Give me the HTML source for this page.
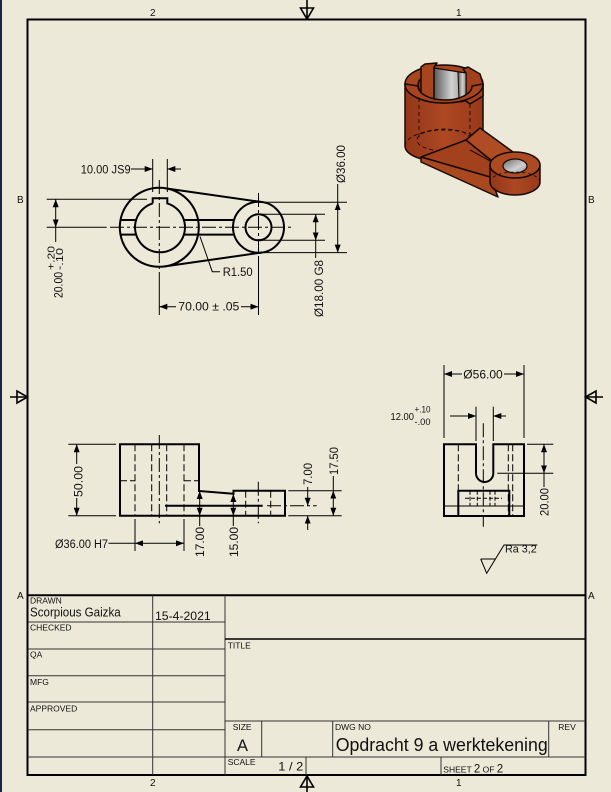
<!DOCTYPE html>
<html><head><meta charset="utf-8"><style>
html,body{margin:0;padding:0;background:#ECE9D8;}
svg{display:block;}
text{font-family:"Liberation Sans",sans-serif;fill:#111;}
</style></head><body>
<svg width="611" height="792" viewBox="0 0 611 792" xmlns="http://www.w3.org/2000/svg">
<defs>
<marker id="ar" viewBox="0 0 8 6" refX="8" refY="3" markerWidth="8" markerHeight="6" markerUnits="userSpaceOnUse" orient="auto"><path d="M0,0 L8,3 L0,6 z" fill="#000"/></marker>
<linearGradient id="gr" x1="0" y1="0" x2="1" y2="0"><stop offset="0" stop-color="#5a5a5a"/><stop offset="0.55" stop-color="#d2d2d2"/><stop offset="1" stop-color="#8a8a8a"/></linearGradient>
<linearGradient id="gr2" x1="0" y1="0" x2="1" y2="1"><stop offset="0" stop-color="#6a6a6a"/><stop offset="0.6" stop-color="#cfcfcf"/><stop offset="1" stop-color="#9a9a9a"/></linearGradient>
<linearGradient id="cu" x1="0" y1="0" x2="1" y2="0"><stop offset="0" stop-color="#93361a"/><stop offset="0.5" stop-color="#ad4822"/><stop offset="1" stop-color="#98391a"/></linearGradient>
</defs>
<rect x="0" y="0" width="611" height="792" fill="#ECE9D8"/>
<rect x="0" y="0" width="2" height="792" fill="#1e2050"/>

<rect x="27.5" y="19.5" width="558" height="755.5" fill="none" stroke="#000" stroke-width="2"/>
<g font-size="10">
<text x="150" y="16">2</text><text x="456" y="16">1</text>
<text x="150" y="786">2</text><text x="456" y="786">1</text>
<text x="17" y="203">B</text><text x="17" y="599">A</text>
<text x="588" y="203">B</text><text x="588" y="599">A</text>
</g>
<g stroke="#000" stroke-width="1.6" fill="none">
<line x1="307" y1="0" x2="307" y2="19"/><path d="M300.5,8 L313.5,8 L307,19 Z"/>
<line x1="307" y1="776" x2="307" y2="792"/><path d="M300.5,787 L313.5,787 L307,776 Z"/>
<line x1="10" y1="397" x2="27" y2="397"/><path d="M17,391 L17,403 L27.5,397 Z"/>
<line x1="586" y1="397" x2="603" y2="397"/><path d="M596,391 L596,403 L585.5,397 Z"/>
</g>

<!-- ================= TOP VIEW ================= -->
<g stroke="#000" fill="none">
<g stroke-width="2">
<circle cx="159.3" cy="227.3" r="39.5"/>
<path d="M152.7,203.4 L152.7,198.3 L167.3,198.3 L167.3,203.4 A25,25 0 1 1 152.7,203.4"/>
<circle cx="258.5" cy="227.3" r="25.5"/>
<circle cx="258.5" cy="227.3" r="13"/>
<line x1="164.9" y1="188.2" x2="262.1" y2="202.1"/>
<line x1="164.9" y1="266.4" x2="262.1" y2="252.5"/>
<line x1="120.5" y1="220" x2="135.4" y2="220"/>
<line x1="120.5" y1="234.6" x2="135.4" y2="234.6"/>
<line x1="183.2" y1="220" x2="234.1" y2="220"/>
<line x1="183.2" y1="234.6" x2="234.1" y2="234.6"/>
</g>
<g stroke-width="1">
<line x1="110" y1="227.3" x2="292" y2="227.3" stroke-dasharray="14,3,3,3"/>
<line x1="159.3" y1="180" x2="159.3" y2="272" stroke-dasharray="14,3,3,3"/>
<line x1="159.3" y1="272" x2="159.3" y2="315"/>
<line x1="258.5" y1="193" x2="258.5" y2="256" stroke-dasharray="14,3,3,3"/>
<line x1="258.5" y1="256" x2="258.5" y2="315"/>
<line x1="152.7" y1="159" x2="152.7" y2="192"/>
<line x1="167.3" y1="159" x2="167.3" y2="192"/>
<line x1="131" y1="169" x2="152.7" y2="169" marker-end="url(#ar)"/>
<line x1="181" y1="169" x2="167.3" y2="169" marker-end="url(#ar)"/>
<line x1="46.7" y1="199.3" x2="147" y2="199.3"/>
<line x1="46.7" y1="227.3" x2="106.7" y2="227.3"/>
<line x1="55.7" y1="213" x2="55.7" y2="199.3" marker-end="url(#ar)"/>
<line x1="55.7" y1="213" x2="55.7" y2="227.3" marker-end="url(#ar)"/>
<line x1="55.7" y1="227.3" x2="55.7" y2="242"/>
<polyline points="200,236.5 212.3,271.7 220,271.7"/>
<line x1="176" y1="306.7" x2="159.3" y2="306.7" marker-end="url(#ar)"/>
<line x1="241" y1="306.7" x2="258.5" y2="306.7" marker-end="url(#ar)"/>
<line x1="264" y1="202.2" x2="347" y2="202.2"/>
<line x1="264" y1="252.6" x2="347" y2="252.6"/>
<line x1="337.7" y1="227" x2="337.7" y2="202.2" marker-end="url(#ar)"/>
<line x1="337.7" y1="227" x2="337.7" y2="252.6" marker-end="url(#ar)"/>
<line x1="337.7" y1="202.2" x2="337.7" y2="184"/>
<line x1="262" y1="214.3" x2="325" y2="214.3"/>
<line x1="262" y1="240.3" x2="325" y2="240.3"/>
<line x1="315.7" y1="227" x2="315.7" y2="214.3" marker-end="url(#ar)"/>
<line x1="315.7" y1="227" x2="315.7" y2="240.3" marker-end="url(#ar)"/>
<line x1="315.7" y1="240.3" x2="315.7" y2="258"/>
</g>
</g>
<g font-size="11.5">
<text x="80.7" y="173.3" textLength="50" lengthAdjust="spacingAndGlyphs">10.00 JS9</text>
<text x="178.3" y="310.7" textLength="61" lengthAdjust="spacingAndGlyphs">70.00 ± .05</text>
<text x="222.7" y="276" textLength="30" lengthAdjust="spacingAndGlyphs">R1.50</text>
<text transform="translate(62.7,298) rotate(-90)" textLength="26" lengthAdjust="spacingAndGlyphs">20.00</text>
<text transform="translate(54.5,270) rotate(-90)" font-size="10.5" textLength="24" lengthAdjust="spacingAndGlyphs">+.20</text>
<text transform="translate(63,270) rotate(-90)" font-size="10.5" textLength="22" lengthAdjust="spacingAndGlyphs">-.10</text>
<text transform="translate(345,183) rotate(-90)" textLength="38" lengthAdjust="spacingAndGlyphs">Ø36.00</text>
<text transform="translate(323,317) rotate(-90)" textLength="57" lengthAdjust="spacingAndGlyphs">Ø18.00 G8</text>
</g>

<!-- ================= 3D VIEW ================= -->
<g stroke="#160a04" stroke-width="1.5" stroke-linejoin="round">
<path d="M405,84 L405,146 A39,16 0 0 0 483,146 L483,84 Z" fill="url(#cu)"/>
<ellipse cx="444" cy="84" rx="39" ry="19" fill="#a9461f"/>
<ellipse cx="445" cy="85" rx="27" ry="14" fill="#8e3414"/>
<path d="M434,68 L466,73 L466,101 Q450,104 434,100 Z" fill="url(#gr)" stroke-width="1.2"/>
<path d="M421,67 L425,64 L437,63 L434,67 L434,101 L421,97 Z" fill="#a8451f"/>
<path d="M463,69 L468,67 L480,74 L483,84 L483,96 L470,104 L466,101 L466,73 Z" fill="#a3411c"/>
<path d="M458,72 L466,73 L466,100 L459,101 Z" fill="url(#gr)" stroke-width="1"/>
<path d="M405,84 A39,19 0 0 0 483,84 L472,86 A27,14 0 0 1 418,86 Z" fill="#a8451f"/>
<g fill="none" stroke-width="0.9" stroke-dasharray="4,3">
<path d="M405,146 A39,16 0 0 1 483,146"/>
<ellipse cx="444" cy="140" rx="27" ry="11"/>
<line x1="419" y1="98" x2="419" y2="140"/>
<line x1="470" y1="104" x2="470" y2="140"/>
</g>
<!-- arm side face joining cylinder -->
<path d="M421,157 L466,140 L492,161 L490,177 Z" fill="#a3411c"/>
<path d="M466,140 L480,128 L513,152 L492,161 Z" fill="#b04c24"/>
<line x1="470" y1="150" x2="492" y2="162" stroke-width="1"/>
<!-- base plate wedge -->
<path d="M421,157 L490,177 L498,197 L421,162 Z" fill="#a9481f"/>
<!-- boss -->
<path d="M490,165 L490,182 A25,13 0 0 0 540,182 L540,165 Z" fill="url(#cu)"/>
<ellipse cx="515" cy="165" rx="25" ry="13" fill="#ad4a22"/>
<ellipse cx="515" cy="166" rx="12" ry="7" fill="url(#gr2)" stroke-width="1.2"/>
<path d="M490,182 A25,10 0 0 1 540,182" fill="none" stroke-width="0.8" stroke-dasharray="3,3"/>
</g>

<!-- ================= FRONT VIEW ================= -->
<g stroke="#000" fill="none">
<path d="M120,444.3 L199,444.3 L199,491 L233.5,493.8 L233.5,490.7 L285,490.7 L285,515.7 L120,515.7 Z" stroke-width="2"/>
<line x1="165" y1="505.7" x2="262.7" y2="505.7" stroke-width="2"/>
<g stroke-width="1" stroke-dasharray="7,3">
<line x1="135" y1="444.3" x2="135" y2="515.7"/>
<line x1="151.7" y1="444.3" x2="151.7" y2="515.7"/>
<line x1="166.7" y1="444.3" x2="166.7" y2="515.7"/>
<line x1="184" y1="444.3" x2="184" y2="515.7"/>
<line x1="120" y1="480.7" x2="135" y2="480.7"/>
<line x1="184" y1="480.7" x2="199" y2="480.7"/>
<line x1="245.7" y1="490.7" x2="245.7" y2="515.7"/>
<line x1="270.7" y1="490.7" x2="270.7" y2="515.7"/>
</g>
<g stroke-width="1">
<line x1="159.3" y1="435" x2="159.3" y2="523.3" stroke-dasharray="14,3,3,3"/>
<line x1="258.3" y1="481.7" x2="258.3" y2="523.3" stroke-dasharray="14,3,3,3"/>
<line x1="267" y1="505.7" x2="316.7" y2="505.7" stroke-dasharray="14,3,3,3"/>
<line x1="68.3" y1="444.3" x2="116" y2="444.3"/>
<line x1="68.3" y1="515.7" x2="116" y2="515.7"/>
<line x1="76.7" y1="464" x2="76.7" y2="444.3" marker-end="url(#ar)"/>
<line x1="76.7" y1="498" x2="76.7" y2="515.7" marker-end="url(#ar)"/>
<line x1="135" y1="519" x2="135" y2="551"/>
<line x1="184" y1="519" x2="184" y2="551"/>
<line x1="108.5" y1="543.3" x2="135" y2="543.3"/>
<line x1="150" y1="543.3" x2="135" y2="543.3" marker-end="url(#ar)"/>
<line x1="150" y1="543.3" x2="184" y2="543.3" marker-end="url(#ar)"/>
<line x1="199.7" y1="503" x2="199.7" y2="491" marker-end="url(#ar)"/>
<line x1="199.7" y1="503" x2="199.7" y2="515.7" marker-end="url(#ar)"/>
<line x1="199.7" y1="515.7" x2="199.7" y2="526"/>
<line x1="233.3" y1="505" x2="233.3" y2="494" marker-end="url(#ar)"/>
<line x1="233.3" y1="505" x2="233.3" y2="515.7" marker-end="url(#ar)"/>
<line x1="233.3" y1="515.7" x2="233.3" y2="526"/>
<line x1="288.3" y1="490.7" x2="341.7" y2="490.7"/>
<line x1="288.3" y1="515.7" x2="341.7" y2="515.7"/>
<line x1="307.7" y1="487" x2="307.7" y2="505.7" marker-end="url(#ar)"/>
<line x1="307.7" y1="530" x2="307.7" y2="515.7" marker-end="url(#ar)"/>
<line x1="333.3" y1="503" x2="333.3" y2="490.7" marker-end="url(#ar)"/>
<line x1="333.3" y1="503" x2="333.3" y2="515.7" marker-end="url(#ar)"/>
<line x1="333.3" y1="490.7" x2="333.3" y2="476"/>
</g>
</g>
<g font-size="11.5">
<text transform="translate(82.5,497) rotate(-90)" textLength="31" lengthAdjust="spacingAndGlyphs">50.00</text>
<text x="55" y="548" textLength="53" lengthAdjust="spacingAndGlyphs">Ø36.00 H7</text>
<text transform="translate(204,557) rotate(-90)" textLength="30" lengthAdjust="spacingAndGlyphs">17.00</text>
<text transform="translate(238,557) rotate(-90)" textLength="30" lengthAdjust="spacingAndGlyphs">15.00</text>
<text transform="translate(312,485) rotate(-90)" textLength="22" lengthAdjust="spacingAndGlyphs">7.00</text>
<text transform="translate(338,475) rotate(-90)" textLength="28" lengthAdjust="spacingAndGlyphs">17.50</text>
</g>

<!-- ================= SIDE VIEW ================= -->
<g stroke="#000" fill="none">
<path d="M444,444.3 L476,444.3 L476,473.3 A8.65,8.65 0 0 0 493.3,473.3 L493.3,444.3 L524,444.3 L524,516 L444,516 Z" stroke-width="2"/>
<path d="M458.3,516 L458.3,490.7 L509.3,490.7 L509.3,516" stroke-width="2"/>
<line x1="444" y1="506" x2="524" y2="506" stroke-width="1"/>
<g stroke-width="1" stroke-dasharray="7,3">
<line x1="458.3" y1="444.3" x2="458.3" y2="490.7"/>
<line x1="508.3" y1="444.3" x2="508.3" y2="516"/>
<line x1="512.7" y1="444.3" x2="512.7" y2="516"/>
</g>
<g stroke-width="1" stroke-dasharray="4,2">
<line x1="470" y1="490.7" x2="470" y2="506"/>
<line x1="477.3" y1="490.7" x2="477.3" y2="506"/>
<line x1="490" y1="490.7" x2="490" y2="506"/>
<line x1="495" y1="490.7" x2="495" y2="506"/>
<line x1="465" y1="498.3" x2="502" y2="498.3"/>
</g>
<g stroke-width="1">
<line x1="483.3" y1="423.3" x2="483.3" y2="526.7" stroke-dasharray="14,3,3,3"/>
<line x1="444" y1="365" x2="444" y2="438"/>
<line x1="524" y1="365" x2="524" y2="438"/>
<line x1="462" y1="374" x2="444" y2="374" marker-end="url(#ar)"/>
<line x1="504" y1="374" x2="524" y2="374" marker-end="url(#ar)"/>
<line x1="476" y1="406.7" x2="476" y2="441"/>
<line x1="493.3" y1="406.7" x2="493.3" y2="441"/>
<line x1="450" y1="416" x2="476" y2="416" marker-end="url(#ar)"/>
<line x1="506" y1="416" x2="493.3" y2="416" marker-end="url(#ar)"/>
<line x1="527" y1="444.3" x2="553.3" y2="444.3"/>
<line x1="497.3" y1="473.3" x2="553.3" y2="473.3"/>
<line x1="544" y1="459" x2="544" y2="444.3" marker-end="url(#ar)"/>
<line x1="544" y1="459" x2="544" y2="473.3" marker-end="url(#ar)"/>
<line x1="544" y1="473.3" x2="544" y2="487"/>
<polyline points="480.7,559 495,559"/>
<polyline points="480.7,559 486.7,573.3 504,545 537.3,545"/>
</g>
</g>
<g font-size="11.5">
<text x="463.3" y="378.3" textLength="39.4" lengthAdjust="spacingAndGlyphs">Ø56.00</text>
<text x="390.5" y="420" font-size="10.5" textLength="23.5" lengthAdjust="spacingAndGlyphs">12.00</text>
<text x="414.5" y="412.3" font-size="9.5" textLength="16" lengthAdjust="spacingAndGlyphs">+.10</text>
<text x="414.5" y="425" font-size="9.5" textLength="16" lengthAdjust="spacingAndGlyphs">-.00</text>
<text transform="translate(548.5,516) rotate(-90)" textLength="28" lengthAdjust="spacingAndGlyphs">20.00</text>
<text x="505" y="552.5" font-size="11" textLength="31.7" lengthAdjust="spacingAndGlyphs">Ra 3,2</text>
</g>

<!-- ================= TITLE BLOCK ================= -->
<g stroke="#000" fill="none">
<line x1="27.5" y1="595.3" x2="585.5" y2="595.3" stroke-width="2"/>
<g stroke="#333" stroke-width="1">
<line x1="152.7" y1="595.3" x2="152.7" y2="775"/>
<line x1="225" y1="595.3" x2="225" y2="775"/>
<line x1="28" y1="622" x2="225" y2="622"/>
<line x1="28" y1="649" x2="225" y2="649"/>
<line x1="28" y1="675.7" x2="225" y2="675.7"/>
<line x1="28" y1="702" x2="225" y2="702"/>
<line x1="28" y1="729.7" x2="225" y2="729.7"/>
<line x1="28" y1="757" x2="225" y2="757"/>
<line x1="225" y1="721" x2="585" y2="721"/>
<line x1="225" y1="757" x2="585" y2="757"/>
<line x1="261.7" y1="721" x2="261.7" y2="757"/>
<line x1="332.7" y1="721" x2="332.7" y2="757"/>
<line x1="548.7" y1="721" x2="548.7" y2="757"/>
<line x1="306" y1="757" x2="306" y2="775"/>
<line x1="441" y1="757" x2="441" y2="775"/>
</g>
<line x1="225" y1="639" x2="585" y2="639" stroke="#000" stroke-width="1.4"/>
</g>
<g font-size="8.5">
<text x="30" y="603.5">DRAWN</text>
<text x="30" y="630.5">CHECKED</text>
<text x="30" y="657.7">QA</text>
<text x="30" y="685">MFG</text>
<text x="30" y="711.7">APPROVED</text>
<text x="227.7" y="648.3">TITLE</text>
<text x="232.7" y="730">SIZE</text>
<text x="227.7" y="765">SCALE</text>
<text x="335" y="730">DWG NO</text>
<text x="558.3" y="730">REV</text>
</g>
<text x="30" y="616.7" font-size="12.5" textLength="90.7" lengthAdjust="spacingAndGlyphs">Scorpious Gaizka</text>
<text x="155" y="620" font-size="12" textLength="55.7" lengthAdjust="spacingAndGlyphs">15-4-2021</text>
<text x="237" y="751" font-size="16.5">A</text>
<text x="278.3" y="770.7" font-size="12" textLength="25" lengthAdjust="spacingAndGlyphs">1 / 2</text>
<text x="335.7" y="751" font-size="18" textLength="212" lengthAdjust="spacingAndGlyphs">Opdracht 9 a werktekening</text>
<text x="443.3" y="772.3" font-size="8.5">SHEET <tspan font-size="11.5">2</tspan>  OF <tspan font-size="11.5">2</tspan></text>
</svg>
</body></html>
